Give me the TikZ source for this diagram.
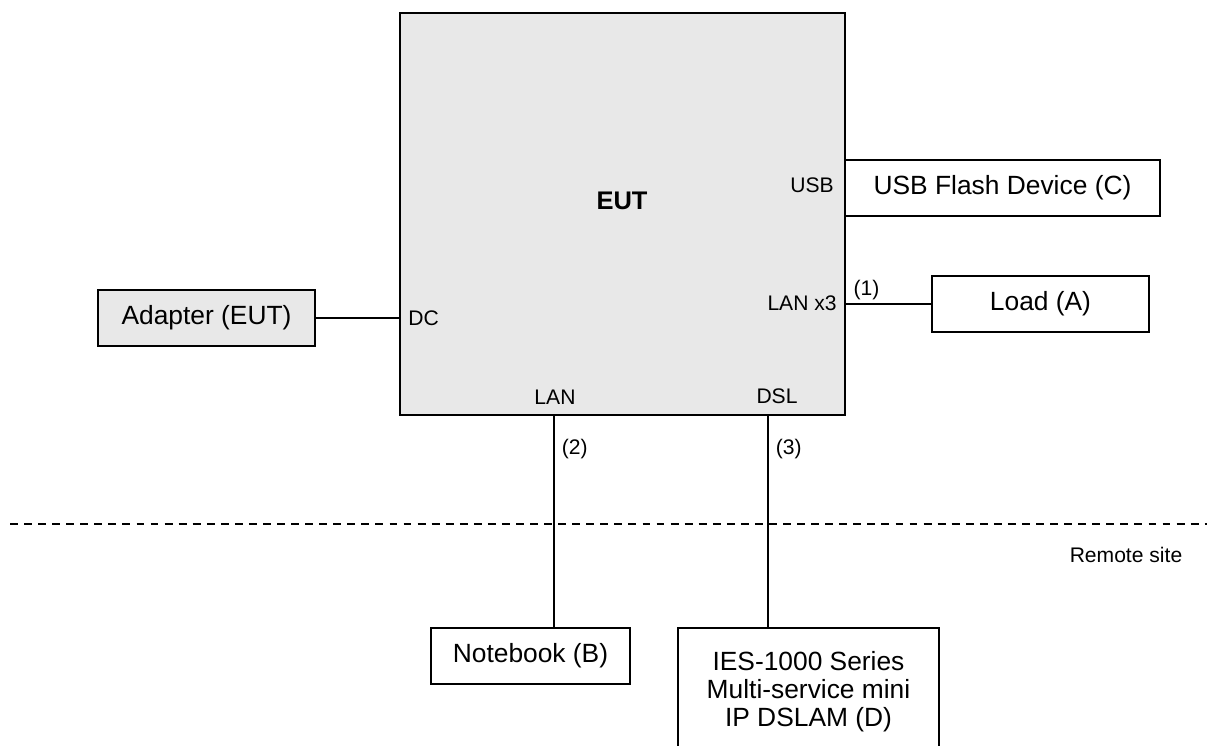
\documentclass[tikz,border=0pt]{standalone}
\usepackage{fontspec}
\setmainfont{Liberation Sans}
\usetikzlibrary{positioning}
\definecolor{eutgray}{RGB}{232,232,232}

\begin{document}
\begin{tikzpicture}[x=0.02cm, y=-0.02cm,
        device/.style={rectangle, draw, line width=1.1pt, inner sep=0pt, align=center, font=\fontsize{15}{16}\selectfont},
        eutbox/.style={device, fill=eutgray, minimum width=8.9cm, minimum height=8.04cm},
        port/.style={inner sep=0pt, font=\fontsize{12}{14}\selectfont},
        cable/.style={line width=0.9pt},
        sitebreak/.style={line width=1.1pt, dash pattern=on 4.5pt off 3.5pt}
    ]
        \clip (0,0) rectangle (1207,745);

        % EUT
        \node[eutbox] (eut) at (622.5,214) {};
        \node[font=\fontsize{14.5}{16}\selectfont\bfseries] (eutname) at (622,201) {EUT};
        \node[port, anchor=east] (usbport) at (834,185) {USB};
        \node[port, anchor=east] (lan3port) at (837,303) {LAN x3};
        \node[port, anchor=west] (dcport) at (408,318) {DC};
        \node[port] (lanlabel) at (555,397) {LAN};
        \node[port] (dsllabel) at (777,396) {DSL};

        % Devices
        \node[device, fill=eutgray, minimum width=4.34cm, minimum height=1.12cm] (adapter) at (206.5,318) {Adapter (EUT)};
        \node[device, minimum width=6.3cm, minimum height=1.12cm] (usb) at (1002.5,188) {USB Flash Device (C)};
        \node[device, minimum width=4.34cm, minimum height=1.12cm] (load) at (1040.5,304) {Load (A)};
        \node[device, minimum width=3.98cm, minimum height=1.12cm] (notebook) at (530.5,656) {Notebook (B)};
        \node[device, minimum width=5.22cm, minimum height=2.56cm] (dslam) at (808.5,692) {IES-1000 Series\\Multi-service mini\\IP DSLAM (D)};

        % Cables
        \coordinate (lanxcable) at (845,304);
        \coordinate (lancable) at (554,415);
        \coordinate (dslcable) at (768,415);

        \draw[cable] (adapter.east) -- (adapter.east -| eut.west);
        \draw[cable] (lanxcable) -- (load.west) node[port, pos=0.25, above, inner sep=2pt] (c1) {(1)};
        \draw[cable] (lancable) -- (lancable |- notebook.north) node[port, pos=0.16, right, inner sep=4pt] (c2) {(2)};
        \draw[cable] (dslcable) -- (dslcable |- dslam.north) node[port, pos=0.16, right, inner sep=4pt] (c3) {(3)};

        % Remote site
        \draw[sitebreak] (10,524) -- (1207,524);
        \node[port] (remote) at (1126,555) {Remote site};
    \end{tikzpicture}
\end{document}
